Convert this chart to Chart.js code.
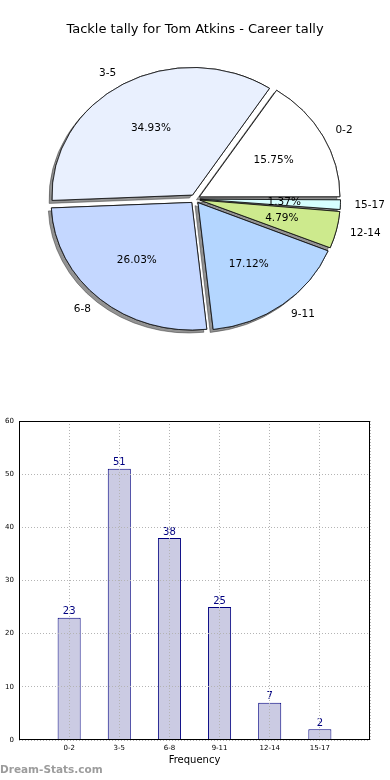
<!DOCTYPE html>
<html>
<head>
<meta charset="utf-8">
<script src="https://cdn.jsdelivr.net/npm/chart.js@4.4.0/dist/chart.umd.min.js"></script>
<style>
  body { margin: 0; background: #fff; width: 390px; height: 780px; position: relative; overflow: hidden; }
  #pieWrap { position: absolute; left: 0; top: 0; width: 390px; height: 390px; }
  #barWrap { position: absolute; left: 0; top: 390px; width: 390px; height: 390px; }
  #mark { position: absolute; left: 0; top: 763px; font: bold 10.5px "DejaVu Sans", sans-serif; color: #9c9c9c; }
</style>
</head>
<body>
<div id="pieWrap"><canvas id="pie" width="390" height="390"></canvas></div>
<div id="barWrap"><canvas id="bar" width="390" height="390"></canvas></div>
<div id="mark">Dream-Stats.com</div>
<script>
// tackle ranges and how often each happened
const categories = ['0-2', '3-5', '6-8', '9-11', '12-14', '15-17'];
const tallies = [23, 51, 38, 25, 7, 2];
const pieColors = ['#ffffff', '#e9f0fe', '#c4d7ff', '#b4d6ff', '#cdea8d', '#d6ffff'];
const yTicks = [0, 10, 20, 30, 40, 50, 60];

const FONT = '"DejaVu Sans", sans-serif';
const PIE_RADIUS = 140.5;
const SQUASH = 0.908;   // the original pie is drawn as an ellipse
const EXPLODE = 5;      // px each wedge is pushed out

const total = tallies.reduce((a, b) => a + b, 0);
const percents = tallies.map(v => (v / total * 100).toFixed(2) + '%');

// squash + flip the pie so it runs counter-clockwise from 3 o'clock, with a drop shadow
const ellipsePie = {
  id: 'ellipsePie',
  beforeDatasetsDraw(chart) {
    const ctx = chart.ctx;
    const arcs = chart.getDatasetMeta(0).data;
    const cx = arcs[0].x, cy = arcs[0].y;
    arcs.forEach(el => {
      const fix = 1 - Math.sin(Math.min(Math.PI, el.circumference));
      el.outerRadius = PIE_RADIUS - (el.options.offset / 4) * fix;
    });
    ctx.save();
    ctx.translate(cx, cy);
    ctx.scale(1, -SQUASH);
    ctx.translate(-cx, -cy);
    // shadow pass underneath every wedge
    ctx.save();
    ctx.shadowColor = 'rgba(40,40,40,0.5)';
    ctx.shadowOffsetX = -3;
    ctx.shadowOffsetY = 3;
    ctx.shadowBlur = 0;
    arcs.forEach(el => el.draw(ctx));
    ctx.restore();
  },
  afterDatasetsDraw(chart) {
    const ctx = chart.ctx;
    ctx.restore();
    const arcs = chart.getDatasetMeta(0).data;
    ctx.save();
    ctx.fillStyle = '#000';
    ctx.font = '10.5px ' + FONT;
    ctx.textBaseline = 'middle';
    arcs.forEach((el, i) => {
      const mid = (el.startAngle + el.endAngle) / 2;
      const c = Math.cos(mid), s = Math.sin(mid);
      const ex = el.x + c * EXPLODE;
      const ey = el.y - SQUASH * s * EXPLODE;
      ctx.textAlign = c > 0 ? 'left' : 'right';
      ctx.fillText(categories[i], ex + 1.1 * PIE_RADIUS * c, ey - SQUASH * 1.1 * PIE_RADIUS * s);
      ctx.textAlign = 'center';
      ctx.fillText(percents[i], ex + 0.6 * PIE_RADIUS * c, ey - SQUASH * 0.6 * PIE_RADIUS * s);
    });
    ctx.restore();
  }
};

new Chart(document.getElementById('pie'), {
  type: 'pie',
  data: {
    labels: categories,
    datasets: [{
      data: tallies,
      backgroundColor: pieColors,
      borderColor: '#111',
      borderWidth: 0.9,
      offset: EXPLODE * 4,
      clip: false
    }]
  },
  options: {
    responsive: false,
    animation: false,
    events: [],
    rotation: 90,
    radius: PIE_RADIUS,
    layout: { padding: { left: 0, right: 0, top: 0, bottom: 39.6 } },
    plugins: {
      legend: { display: false },
      tooltip: { enabled: false },
      title: {
        display: true,
        text: 'Tackle tally for Tom Atkins - Career tally',
        color: '#000',
        font: { family: FONT, size: 13, weight: 'normal' },
        padding: { top: 22, bottom: 10 }
      }
    }
  },
  plugins: [ellipsePie]
});

// bar chart: value labels and the box round the plot
const barLabels = {
  id: 'barLabels',
  afterDatasetsDraw(chart) {
    const ctx = chart.ctx;
    const meta = chart.getDatasetMeta(0);
    ctx.save();
    ctx.fillStyle = '#000080';
    ctx.font = '10px ' + FONT;
    ctx.textAlign = 'center';
    ctx.textBaseline = 'bottom';
    meta.data.forEach((bar, i) => {
      const v = chart.data.datasets[0].data[i];
      if (v == null) return;
      ctx.fillText(v, bar.x, bar.y - 1);
    });
    ctx.restore();
  },
  afterDraw(chart) {
    const a = chart.chartArea;
    const ctx = chart.ctx;
    ctx.save();
    ctx.strokeStyle = '#000';
    ctx.lineWidth = 1;
    ctx.strokeRect(a.left + 0.5, a.top + 0.5, a.right - a.left - 1, a.bottom - a.top - 1);
    ctx.restore();
  }
};

const dottedGrid = { color: '#b4b4b4', lineWidth: 1, drawTicks: false, offset: false, z: 1 };

new Chart(document.getElementById('bar'), {
  type: 'bar',
  data: {
    labels: ['', ...categories, ''],
    datasets: [{
      data: [null, ...tallies, null],
      backgroundColor: '#cbcbe3',
      borderColor: '#000080',
      borderWidth: 1,
      categoryPercentage: 1,
      barPercentage: 0.46
    }]
  },
  options: {
    responsive: false,
    animation: false,
    events: [],
    layout: { padding: { left: 0, right: 20, top: 31, bottom: 0 } },
    plugins: { legend: { display: false }, tooltip: { enabled: false } },
    scales: {
      x: {
        offset: false,
        grid: dottedGrid,
        border: { display: false, dash: [1, 2] },
        ticks: { font: { family: FONT, size: 7 }, color: '#000', padding: 4, autoSkip: false, maxRotation: 0 },
        title: { display: true, text: 'Frequency', color: '#000', font: { family: FONT, size: 10 }, padding: { top: 0, bottom: 14 } },
        afterFit(s) { s.height = 40; }
      },
      y: {
        min: 0,
        max: 60,
        afterBuildTicks(s) { s.ticks = yTicks.map(v => ({ value: v })); },
        grid: dottedGrid,
        border: { display: false, dash: [1, 2] },
        ticks: { font: { family: FONT, size: 7 }, color: '#000', padding: 5 },
        afterFit(s) { s.width = 19; }
      }
    }
  },
  plugins: [barLabels]
});
</script>
</body>
</html>
